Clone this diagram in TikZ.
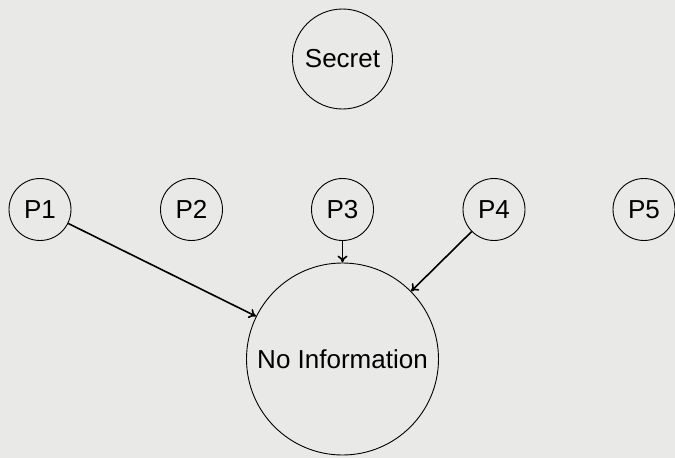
\documentclass[tikz,border=0pt]{standalone}
\usepackage{fontspec}
\setmainfont{Liberation Sans}
\usetikzlibrary{arrows.meta}
\definecolor{bg}{RGB}{233,233,231}
\begin{document}
\begin{tikzpicture}[x=1pt,y=-1pt,
  party/.style={circle,draw,line width=0.9pt,minimum size=62pt,inner sep=0pt,font=\fontsize{26}{30}\selectfont},
  secretnode/.style={circle,draw,line width=0.9pt,minimum size=100pt,inner sep=0pt,font=\fontsize{26}{30}\selectfont},
  infonode/.style={circle,draw,line width=0.9pt,minimum size=192pt,inner sep=0pt,font=\fontsize{26}{30}\selectfont},
  conn/.style={line width=1.6pt,-{To[length=7pt,width=10pt]}}]
\fill[bg] (0,0) rectangle (675,458);
\useasboundingbox (0,0) rectangle (675,458);
\node[secretnode] (s) at (342.5,59) {Secret};
\node[party] (p1) at (40,209.5) {P1};
\node[party] (p2) at (191.5,209.5) {P2};
\node[party] (p3) at (342.5,209.5) {P3};
\node[party] (p4) at (494,209.5) {P4};
\node[party] (p5) at (644,209.5) {P5};
\node[infonode] (n) at (342.5,359) {No Information};
\draw[conn] (p1) -- (n);
\draw[conn] (p3) -- (n);
\draw[conn] (p4) -- (n);
\end{tikzpicture}
\end{document}
